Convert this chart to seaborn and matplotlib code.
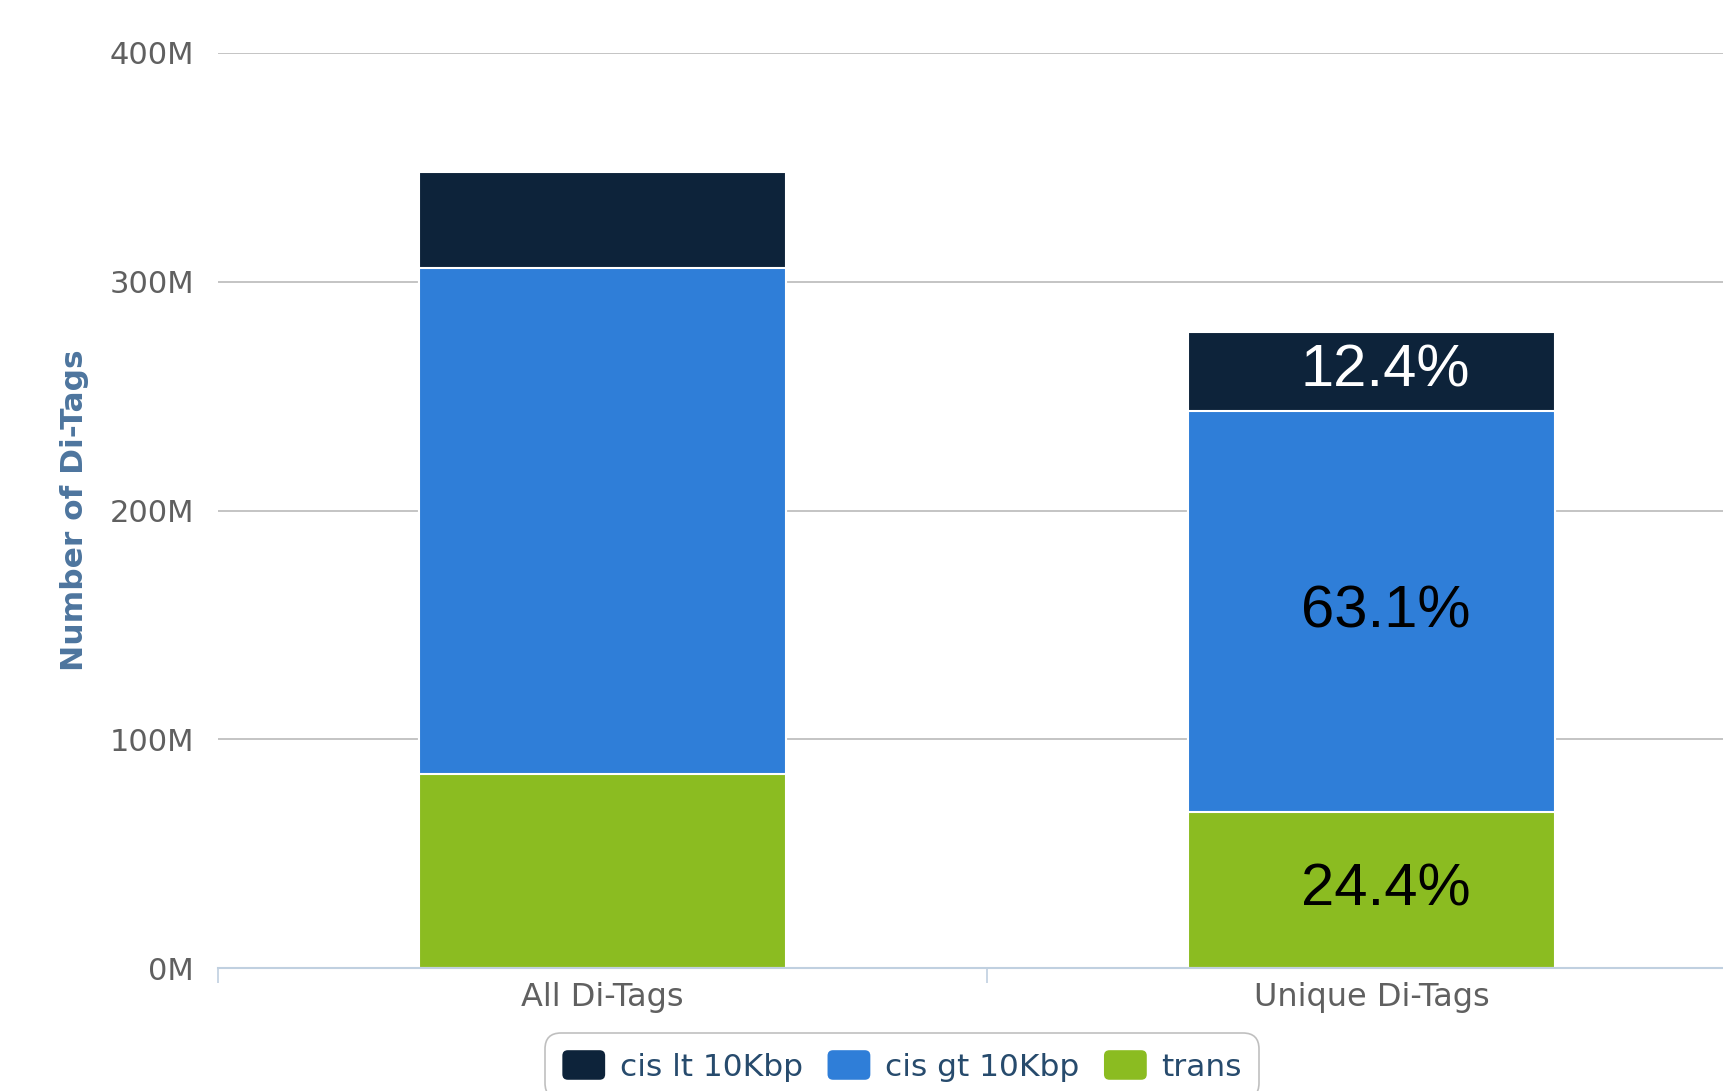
import numpy as np
import pandas as pd
import matplotlib
matplotlib.use("Agg")
import matplotlib.pyplot as plt
import seaborn as sns
from matplotlib.patches import Patch, FancyBboxPatch
from matplotlib.legend_handler import HandlerPatch
from matplotlib.ticker import FuncFormatter

# Di-Tag counts in millions
categories = ["All Di-Tags", "Unique Di-Tags"]
series_names = ["cis lt 10Kbp", "cis gt 10Kbp", "trans"]
trans = [84.7, 68.0]
cis_gt = [221.2, 175.6]
cis_lt = [42.2, 34.6]
y_ticks = [0, 100, 200, 300, 400]
labelled_category = "Unique Di-Tags"

colors = {"cis lt 10Kbp": "#0d233a", "cis gt 10Kbp": "#2f7ed8", "trans": "#8bbc21"}
label_colors = {"cis lt 10Kbp": "white", "cis gt 10Kbp": "black", "trans": "black"}

sns.set_theme(style="white")
plt.rcParams["font.family"] = ["DejaVu Sans"]

W, H = 1723, 1091
fig = plt.figure(figsize=(W / 100, H / 100), dpi=100)
ax = fig.add_axes([217.6 / W, 123 / H, 1538.8 / W, 915 / H])

df = pd.DataFrame({
    "category": categories,
    "trans": trans,
    "cis gt 10Kbp": cis_gt,
    "cis lt 10Kbp": cis_lt,
})
df["top_trans"] = df["trans"]
df["top_gt"] = df["top_trans"] + df["cis gt 10Kbp"]
df["top_lt"] = df["top_gt"] + df["cis lt 10Kbp"]

# stacked bars: draw cumulative heights from the top layer down
for col, name in [("top_lt", "cis lt 10Kbp"), ("top_gt", "cis gt 10Kbp"), ("top_trans", "trans")]:
    sns.barplot(data=df, x="category", y=col, color=colors[name], saturation=1,
                width=0.477, edgecolor="white", linewidth=1.5, errorbar=None, ax=ax)

# percentage labels on the unique bar
i = categories.index(labelled_category)
vals = {"trans": trans[i], "cis gt 10Kbp": cis_gt[i], "cis lt 10Kbp": cis_lt[i]}
total = sum(vals.values())
bottom = 0.0
for name in ["trans", "cis gt 10Kbp", "cis lt 10Kbp"]:
    v = vals[name]
    ax.annotate(f"{v / total * 100:.1f}%", xy=(i, bottom + v / 2), xytext=(10, -11.2),
                textcoords="offset points", ha="center", va="baseline",
                fontsize=43, color=label_colors[name], family="Liberation Sans")
    bottom += v

ax.set_ylim(0, 400)
ax.set_yticks(y_ticks)
ax.yaxis.set_major_formatter(FuncFormatter(lambda v, p: f"{int(v)}M"))
ax.yaxis.grid(True, color="#c4c4c4", linewidth=1.4)
ax.set_axisbelow(True)

for s in ["top", "right", "left"]:
    ax.spines[s].set_visible(False)
ax.spines["bottom"].set_color("#c0d0e0")
ax.spines["bottom"].set_linewidth(1.5)

ax.set_xticks([-0.5, 0.5, 1.5], minor=True)
ax.tick_params(axis="x", which="minor", bottom=True, length=11, width=1.2,
               color="#c0d0e0", direction="out")
ax.tick_params(axis="x", which="major", bottom=True, length=0, pad=10,
               labelsize=23, labelcolor="#606060")
ax.tick_params(axis="y", which="both", left=False, length=0, pad=17,
               labelsize=22, labelcolor="#606060")
ax.set_xlim(-0.5, 1.5)

ax.set_xlabel("")
ax.set_ylabel("Number of Di-Tags", fontsize=22.5, fontweight="bold", color="#4d759e")
ax.yaxis.set_label_coords((89 - 217.6) / 1538.8, 0.5)


class RoundedHandler(HandlerPatch):
    def create_artists(self, legend, orig_handle, xdescent, ydescent, width, height,
                       fontsize, trans):
        p = FancyBboxPatch((-xdescent, -ydescent), width, height,
                           boxstyle="round,pad=0,rounding_size=4",
                           facecolor=orig_handle.get_facecolor(), edgecolor="none",
                           transform=trans)
        return [p]


handles = [Patch(facecolor=colors[n], label=n) for n in series_names]
leg = fig.legend(handles=handles, loc="upper center", ncol=3,
                 bbox_to_anchor=(902 / W, 1 - 1033 / H), bbox_transform=fig.transFigure,
                 fontsize=22.5, frameon=True, fancybox=True, handlelength=1.37,
                 handleheight=1.08, handletextpad=0.46, columnspacing=0.8,
                 borderpad=0.55, borderaxespad=0, handler_map={Patch: RoundedHandler()})
for t in leg.get_texts():
    t.set_color("#274b6d")
frame = leg.get_frame()
frame.set_edgecolor("#b0b0b0")
frame.set_linewidth(1.2)
frame.set_boxstyle("round,pad=0,rounding_size=0.5")

fig.savefig("out.png", dpi=100)
